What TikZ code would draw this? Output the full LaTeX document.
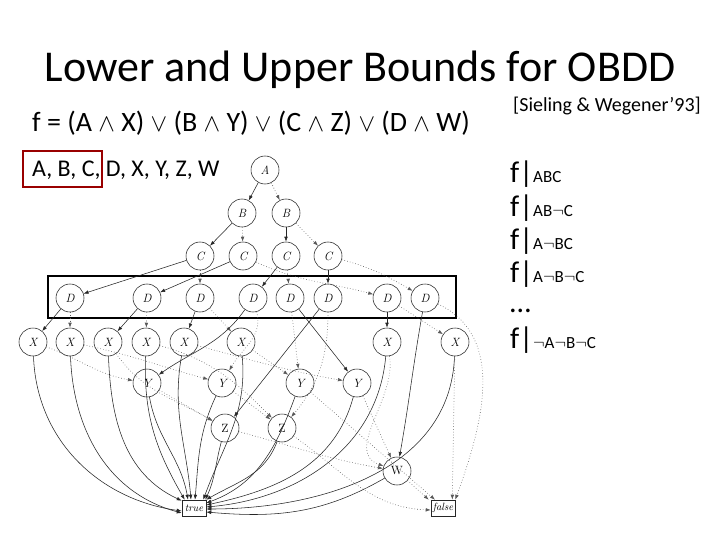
\documentclass[tikz,border=0pt]{standalone}
\usepackage{fontspec}
\newfontfamily\slidefont{Carlito}
\usetikzlibrary{arrows.meta}
\newcommand{\nneg}{\mbox{$\neg$}}
\begin{document}
\begin{tikzpicture}[x=1pt,y=-1pt,
 bdd/.style={circle,draw=black!85,line width=0.55pt,minimum size=28pt,inner sep=0pt,font=\fontsize{12}{12}\selectfont\itshape},
 bddu/.style={bdd,font=\fontsize{12}{12}\selectfont},
 term/.style={draw=black!85,line width=0.55pt,minimum width=24pt,minimum height=16pt,inner sep=0pt,font=\fontsize{10.5}{10.5}\selectfont\itshape},
 hi/.style={draw=black!85,line width=0.55pt,-{Latex[length=5pt,width=3.6pt]}},
 lo/.style={hi,draw=black!65,line width=0.6pt,dash pattern=on 0.6pt off 2.2pt},
 txt/.style={anchor=base west,inner sep=0pt,font=\slidefont},
]
\useasboundingbox (0,0) rectangle (720,540);
\fill[white] (0,0) rectangle (720,540);

% texts
\node[font=\slidefont\fontsize{44}{48}\selectfont,anchor=base] (title) at (360,82) {Lower and Upper Bounds for OBDD};
\node[txt,font=\slidefont\fontsize{28}{32}\selectfont] (formula) at (32,132) {f = (A $\wedge$ X) $\vee$ (B $\wedge$ Y) $\vee$ (C $\wedge$ Z) $\vee$ (D $\wedge$ W)};
\node[txt,font=\slidefont\fontsize{24}{27}\selectfont] (order) at (32,177) {A, B, C, D, X, Y, Z, W};
\node[draw=red!60!black,line width=1.8pt,minimum width=79pt,minimum height=36pt,inner sep=0pt] (redbox) at (62.5,169) {};
\node[txt,font=\slidefont\fontsize{20}{24}\selectfont] (cite) at (513,112) {[Sieling \& Wegener’93]};
\node[txt] (r1) at (510,183) {\fontsize{30}{33}\selectfont f|\fontsize{17}{20}\selectfont ABC};
\node[txt] (r2) at (510,216) {\fontsize{30}{33}\selectfont f|\fontsize{17}{20}\selectfont AB\nneg C};
\node[txt] (r3) at (510,249) {\fontsize{30}{33}\selectfont f|\fontsize{17}{20}\selectfont A\nneg BC};
\node[txt] (r4) at (510,282) {\fontsize{30}{33}\selectfont f|\fontsize{17}{20}\selectfont A\nneg B\nneg C};
\node[txt,font=\slidefont\fontsize{30}{33}\selectfont] (r5) at (510,312) {…};
\node[txt] (r6) at (510,348) {\fontsize{30}{33}\selectfont f|\fontsize{17}{20}\selectfont \nneg A\nneg B\nneg C};

% frame around D level
\node[draw=black,line width=1.6pt,minimum width=408pt,minimum height=42pt,inner sep=0pt] (frame) at (252,297) {};

% BDD nodes
\node[bdd] (A) at (265,170) {A};
\node[bdd] (B1) at (242,213) {B};
\node[bdd] (B2) at (286,213) {B};
\node[bdd] (C1) at (200,256) {C};
\node[bdd] (C2) at (243,256) {C};
\node[bdd] (C3) at (286,256) {C};
\node[bdd] (C4) at (328,256) {C};
\node[bdd] (D1) at (70,298) {D};
\node[bdd] (D2) at (147,298) {D};
\node[bdd] (D3) at (200,298) {D};
\node[bdd] (D4) at (253,298) {D};
\node[bdd] (D5) at (290,298) {D};
\node[bdd] (D6) at (328,298) {D};
\node[bdd] (D7) at (387,298) {D};
\node[bdd] (D8) at (425,298) {D};
\node[bdd] (X1) at (33,342) {X};
\node[bdd] (X2) at (70,342) {X};
\node[bdd] (X3) at (108,342) {X};
\node[bdd] (X4) at (146,342) {X};
\node[bdd] (X5) at (184,342) {X};
\node[bdd] (X6) at (241,342) {X};
\node[bdd] (X7) at (387,342) {X};
\node[bdd] (X8) at (455,342) {X};
\node[bdd] (Y1) at (147,383) {Y};
\node[bdd] (Y2) at (222,383) {Y};
\node[bdd] (Y3) at (300,383) {Y};
\node[bdd] (Y4) at (357,383) {Y};
\node[bddu] (Z1) at (225,428) {Z};
\node[bddu] (Z2) at (282,428) {Z};
\node[bddu] (W) at (397,471) {W};
\node[term] (T) at (194,508) {true};
\node[term] (F) at (443,508) {false};

% upper levels
\draw[hi] (A) -- (B1);
\draw[lo] (A) -- (B2);
\draw[hi] (B1) -- (C1);
\draw[lo] (B1) -- (C2);
\draw[hi] (B2) -- (C3);
\draw[lo] (B2) -- (C4);
\draw[hi] (C1) -- (D1);
\draw[lo] (C1) -- (D3);
\draw[hi] (C2) -- (D2);
\draw[lo] (C2) to[out=-25,in=165] (D7);
\draw[hi] (C3) -- (D4);
\draw[lo] (C3) -- (D5);
\draw[hi] (C4) -- (D6);
\draw[lo] (C4) to[out=-15,in=150] (D8);

% D level
\draw[hi] (D1) -- (X1);
\draw[lo] (D1) -- (X2);
\draw[hi] (D2) -- (X3);
\draw[lo] (D2) -- (X4);
\draw[hi] (D3) -- (X5);
\draw[lo] (D3) -- (X6);
\draw[hi] (D4) to[out=-125,in=35] (Y1);
\draw[lo] (D4) to[out=-75,in=60] (Y2);
\draw[hi] (D5) -- (Y4);
\draw[lo] (D5) -- (Y3);
\draw[hi] (D6) -- (Z1);
\draw[lo] (D6) to[out=-90,in=50] (Z2);
\draw[hi] (D7) -- (X7);
\draw[lo] (D7) -- (X8);
\draw[hi] (D8) to[out=-100,in=80] (W);
\draw[lo] (D8) to[out=-25,in=70] (F.north east);

% X level
\draw[hi] (X1) to[out=-88,in=172] ([yshift=-3pt]T.west);
\draw[hi] (X2) to[out=-88,in=165] ([yshift=-5pt]T.west);
\draw[hi] (X3) to[out=-88,in=155] ([yshift=-1pt]T.north west);
\draw[hi] (X4) to[out=-92,in=120] ([xshift=3pt]T.north west);
\draw[hi] (X5) to[out=-100,in=95] ([xshift=-3pt]T.north);
\draw[hi] (X6) to[out=-85,in=70] ([xshift=-3pt]T.north east);
\draw[hi] (X7) to[out=-95,in=5] ([yshift=1pt]T.east);
\draw[hi] (X8) to[out=-92,in=0] ([yshift=-1pt]T.east);
\draw[lo] (X1) to[out=-20,in=170] (Y1);
\draw[lo] (X2) to[out=-12,in=165] (Y2);
\draw[lo] (X3) to[out=-55,in=150] (Z1);
\draw[lo] (X4) to[out=-15,in=135] (Z2);
\draw[lo] (X5) to[out=-15,in=170] (Y4);
\draw[lo] (X6) -- (Y3);
\draw[lo] (X7) to[out=-80,in=160] (W);
\draw[lo] (X8) -- ([xshift=-3pt]F.north east);

% Y level
\draw[hi] (Y1) to[out=-80,in=100] ([xshift=-6pt]T.north);
\draw[hi] (Y2) to[out=-115,in=85] ([xshift=1pt]T.north);
\draw[hi] (Y3) to[out=-110,in=20] ([yshift=5pt]T.east);
\draw[hi] (Y4) to[out=-105,in=12] ([yshift=3pt]T.east);
\draw[lo] (Y1) -- (Z1);
\draw[lo] (Y2) -- (Z2);
\draw[lo] (Y3) -- ([xshift=-8pt]F.north);
\draw[lo] (Y4) -- (W);

% Z level
\draw[hi] (Z1) to[out=-105,in=65] ([xshift=-1pt]T.north east);
\draw[hi] (Z2) to[out=-110,in=30] (T.north east);
\draw[lo] (Z1) to[out=-15,in=170] (W);
\draw[lo] (Z2) to[out=-35,in=178] ([yshift=-2pt]F.west);

% W level
\draw[hi] (W) to[out=-150,in=-5] ([yshift=-4pt]T.east);
\draw[lo] (W) -- ([xshift=-2pt]F.north west);
\end{tikzpicture}
\end{document}
